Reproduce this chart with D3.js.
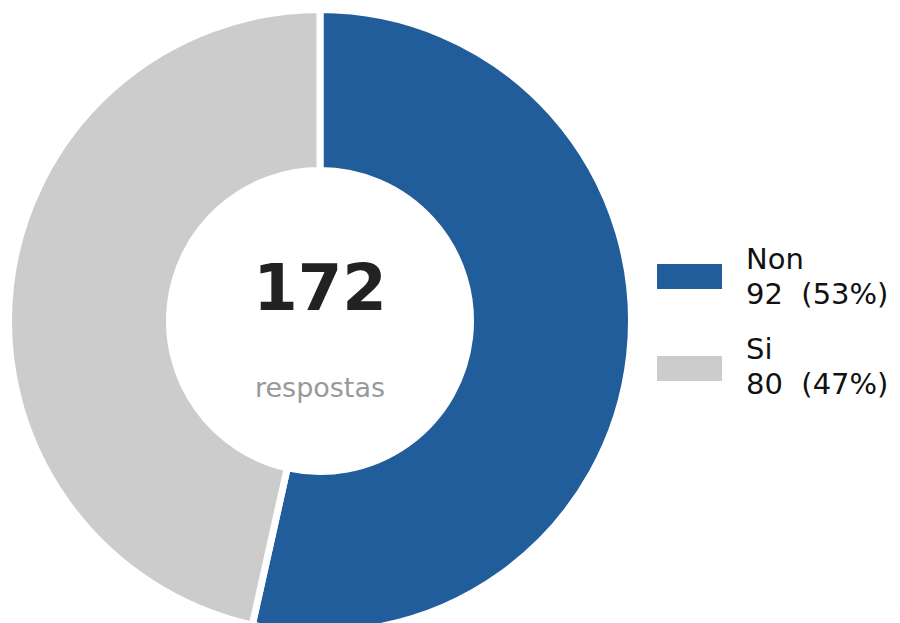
<!DOCTYPE html>
<html><head><meta charset="utf-8">
<script src="https://cdn.jsdelivr.net/npm/d3@7"></script>
<style>body{margin:0;background:#fff}svg{display:block}text{font-family:"DejaVu Sans",sans-serif}</style>
</head><body>
<svg id="c" width="900" height="623"></svg>
<script>
const categories = ["Non", "Si"];
const values = [92, 80];
const colors = ["#215d9a", "#cccccc"];
const centerLabel = "respostas";

const svg = d3.select("#c");
const cx = 320, cy = 321, rOuter = 311.5, rInner = 150.5;
const total = d3.sum(values);
const pie = d3.pie().sort(null).value(d => d)(values);
const arc = d3.arc().innerRadius(rInner).outerRadius(rOuter);
const g = svg.append("g").attr("transform", `translate(${cx},${cy})`);
g.selectAll("path").data(pie).join("path")
  .attr("d", arc)
  .attr("fill", (d, i) => colors[i])
  .attr("stroke", "#fff").attr("stroke-width", 7).attr("stroke-linejoin", "miter");

g.append("text").attr("text-anchor", "middle").attr("y", -11)
  .attr("font-size", 64).attr("font-weight", "bold").attr("fill", "#222")
  .text(total);
g.append("text").attr("text-anchor", "middle").attr("y", 76)
  .attr("font-size", 27).attr("fill", "#999")
  .text(centerLabel);

const fmt = d3.format(".0%");
const leg = svg.append("g");
categories.forEach((c, i) => {
  const ry = 264 + i * 92;
  const ty = 269 + i * 90;
  leg.append("rect").attr("x", 657).attr("y", ry).attr("width", 65).attr("height", 25).attr("fill", colors[i]);
  leg.append("text").attr("x", 746).attr("y", ty).attr("font-size", 29).attr("fill", "#111").text(c);
  leg.append("text").attr("x", 746).attr("y", ty + 35).attr("font-size", 29).attr("fill", "#111")
    .attr("xml:space", "preserve").style("white-space", "pre")
    .text(values[i] + "  (" + fmt(values[i] / total) + ")");
});
</script>
</body></html>
